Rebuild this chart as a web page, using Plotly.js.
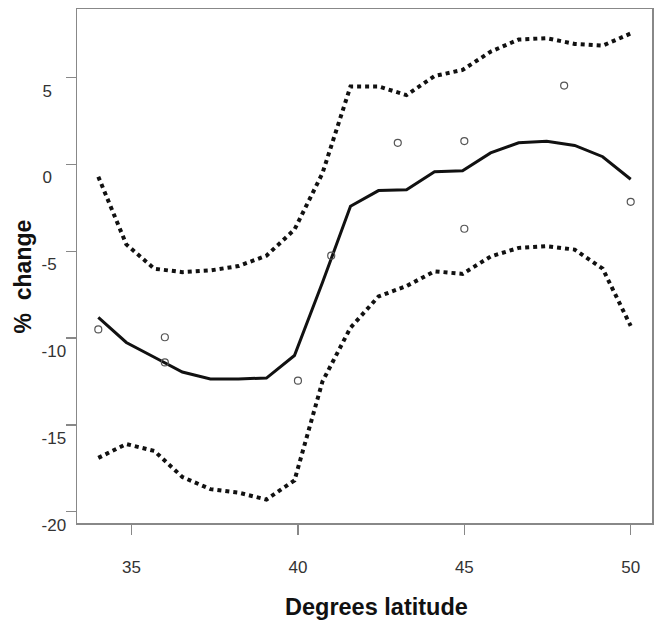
<!DOCTYPE html>
<html>
<head>
<meta charset="utf-8">
<script src="https://cdn.plot.ly/plotly-3.0.1.min.js"></script>
<style>html,body{margin:0;padding:0;background:#fff;}#chart{width:657px;height:620px;}</style>
</head>
<body>
<div id="chart"></div>
<script>
// Observed site values
const obsLat = [34, 36, 36, 40, 41, 43, 45, 45, 48, 50];
const obsChange = [-9.5, -9.95, -11.4, -12.45, -5.25, 1.25, 1.35, -3.7, 4.55, -2.15];

// Fitted curve and confidence bands (20 evenly spaced latitudes from 34 to 50)
const fitLat = [34, 34.842, 35.684, 36.526, 37.368, 38.211, 39.053, 39.895, 40.737, 41.579,
                42.421, 43.263, 44.105, 44.947, 45.789, 46.632, 47.474, 48.316, 49.158, 50];
const fitChange = [-8.8, -10.25, -11.1, -11.95, -12.35, -12.35, -12.3, -11.0, -6.8, -2.4,
                   -1.5, -1.45, -0.42, -0.36, 0.67, 1.25, 1.34, 1.1, 0.45, -0.85];
const upperBand = [-0.7, -4.6, -6.0, -6.2, -6.1, -5.85, -5.25, -3.75, -0.5, 4.5,
                   4.5, 4.0, 5.1, 5.45, 6.5, 7.2, 7.28, 6.95, 6.85, 7.55];
const lowerBand = [-16.9, -16.1, -16.5, -18.0, -18.7, -18.9, -19.3, -18.2, -12.5, -9.4,
                   -7.6, -7.0, -6.15, -6.3, -5.3, -4.8, -4.7, -4.9, -6.0, -9.3];

// Tick labels (y labels are left-aligned in the original, padded with figure spaces)
const xTicks = [35, 40, 45, 50];
const xTickText = ['35', '40', '45', '50'];
const yTicks = [-20, -15, -10, -5, 0, 5];
const yTickText = ['-20', '-15', '-10', '-5\u2007', '0\u2007\u2008', '5\u2007\u2008'];

// Axis titles
const xTitle = 'Degrees latitude';
const yTitle = '% \u00a0change';

const traces = [
  {x: fitLat, y: upperBand, type: 'scatter', mode: 'lines',
   line: {color: '#111', width: 4, dash: 'dot'}, hoverinfo: 'skip'},
  {x: fitLat, y: lowerBand, type: 'scatter', mode: 'lines',
   line: {color: '#111', width: 4, dash: 'dot'}, hoverinfo: 'skip'},
  {x: fitLat, y: fitChange, type: 'scatter', mode: 'lines',
   line: {color: '#111', width: 3}},
  {x: obsLat, y: obsChange, type: 'scatter', mode: 'markers',
   marker: {symbol: 'circle-open', size: 7, color: '#555', line: {width: 1.2, color: '#555'}}}
];

const FONT = 'Liberation Sans, Arial, sans-serif';
const axisCommon = {
  showgrid: false, zeroline: false, showline: true, mirror: true,
  linecolor: '#888', linewidth: 1.5,
  ticks: 'outside', ticklen: 10, tickwidth: 1.5, tickcolor: '#888',
  tickfont: {family: FONT, size: 17, color: '#333'}
};
const titleFont = {size: 23.5, family: FONT, weight: 'bold', color: '#111'};

const layout = {
  width: 657, height: 620,
  margin: {l: 77, r: 5, t: 9, b: 97},
  paper_bgcolor: '#fff', plot_bgcolor: '#fff',
  showlegend: false,
  font: {family: FONT, color: '#111'},
  xaxis: Object.assign({}, axisCommon, {
    range: [33.36, 50.64], tickvals: xTicks, ticktext: xTickText,
    ticklabelstandoff: 18
  }),
  yaxis: Object.assign({}, axisCommon, {
    range: [-20.65, 8.96], tickvals: yTicks, ticktext: yTickText,
    ticklabelshift: 13, ticklabelstandoff: -4
  }),
  annotations: [
    {text: xTitle, xref: 'paper', yref: 'paper', x: 0.5209, y: -0.1634,
     xanchor: 'center', yanchor: 'middle', showarrow: false, font: titleFont},
    {text: yTitle, xref: 'paper', yref: 'paper', x: -0.0922, y: 0.4796,
     xanchor: 'center', yanchor: 'middle', textangle: -90, showarrow: false,
     font: Object.assign({}, titleFont, {size: 23})}
  ]
};

Plotly.newPlot('chart', traces, layout, {displayModeBar: false, staticPlot: true});
</script>
</body>
</html>
